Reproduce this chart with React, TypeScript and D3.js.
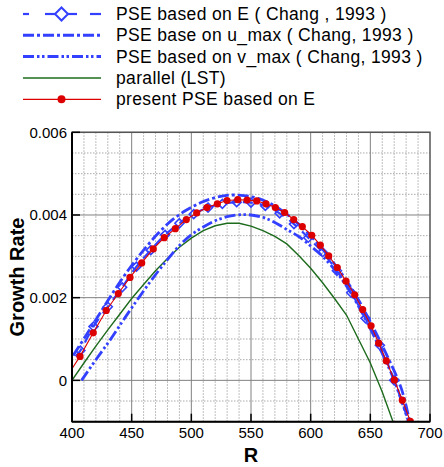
import React from "react";
import * as d3 from "d3";

// Growth rate vs R for several PSE / LST calculations
const eR = [403, 407, 418, 430, 442, 454, 466, 478, 490, 502, 514, 526, 538, 550, 562, 574, 586, 598, 610, 622, 634, 646, 658, 670, 682];
const eG = [0.00058, 0.00072, 0.0013, 0.00178, 0.00225, 0.00275, 0.00315, 0.00352, 0.0038, 0.00402, 0.00418, 0.00427, 0.00431, 0.0043, 0.00422, 0.00404, 0.00378, 0.00345, 0.0031, 0.00265, 0.00212, 0.0015, 0.00085, 0.0, -0.00098];
const eMarked = [false, true, true, true, true, true, true, true, true, true, true, true, true, true, true, true, true, true, true, true, true, true, true, true, false];

const uR = [401, 412, 424, 436, 448, 460, 472, 484, 496, 508, 520, 532, 544, 556, 568, 580, 592, 604, 616, 628, 640, 652, 664, 676, 683];
const uG = [0.0006, 0.0011, 0.00165, 0.0022, 0.0027, 0.00315, 0.00355, 0.00388, 0.00412, 0.0043, 0.00442, 0.00448, 0.00447, 0.0044, 0.00425, 0.00402, 0.00372, 0.00337, 0.00296, 0.0025, 0.00195, 0.0013, 0.0006, -0.0002, -0.001];

const vR = [408, 420, 432, 444, 456, 468, 480, 490, 500, 510, 520, 532, 546, 560, 570, 580, 590, 600, 610, 620, 630, 640, 650, 660, 670, 682];
const vG = [0.0, 0.0005, 0.00098, 0.0015, 0.002, 0.00248, 0.00292, 0.00326, 0.00352, 0.00371, 0.00386, 0.00397, 0.00401, 0.00394, 0.00382, 0.00365, 0.00348, 0.00325, 0.003, 0.00268, 0.00228, 0.0018, 0.00125, 0.00065, 0.0, -0.001];

const lstR = [400, 410, 420, 430, 440, 450, 460, 470, 480, 490, 500, 510, 520, 530, 540, 550, 560, 570, 580, 590, 600, 610, 620, 630, 640, 650, 660, 669];
const lstG = [0.0, 0.00042, 0.00083, 0.00122, 0.0016, 0.00198, 0.00232, 0.00265, 0.00295, 0.00322, 0.00344, 0.00362, 0.00374, 0.0038, 0.0038, 0.00373, 0.00362, 0.00348, 0.0033, 0.00302, 0.00271, 0.00236, 0.00198, 0.00158, 0.001, 0.00042, -0.00028, -0.001];

const presR = [400, 406.7, 417.8, 428.7, 438.8, 448.6, 458.4, 468.1, 477.3, 486.6, 495.8, 504.5, 513.1, 521.8, 529.9, 538.9, 546.7, 554.8, 562.6, 570.4, 578.2, 585.8, 593.0, 600.9, 608.1, 615.1, 622.3, 629.6, 636.9, 643.6, 650.6, 657.0, 663.4, 670.1, 676.8, 683.5];
const presG = [0.00028, 0.00058, 0.00115, 0.00169, 0.0021, 0.00249, 0.00284, 0.00318, 0.00345, 0.00367, 0.00389, 0.00405, 0.00418, 0.00427, 0.00435, 0.00437, 0.00436, 0.00434, 0.00427, 0.00418, 0.00406, 0.00389, 0.00372, 0.00351, 0.00327, 0.00301, 0.00273, 0.0024, 0.00207, 0.00171, 0.00132, 0.0009, 0.00047, 0.00001, -0.00048, -0.00099];

const xTicks = [400, 450, 500, 550, 600, 650, 700];
const yTicks = [0, 0.002, 0.004, 0.006];
const yTickLabels = ["0", "0.002", "0.004", "0.006"];

const legendLabels = [
  "PSE based on E ( Chang , 1993 )",
  "PSE base on u_max ( Chang, 1993 )",
  "PSE based on v_max ( Chang, 1993 )",
  "parallel (LST)",
  "present PSE based on E",
];

const BLUE = "#3340ff";
const RED = "#dd0000";
const GREEN = "#1d6b1d";
const FONT = "'Liberation Sans', Arial, Helvetica, sans-serif";

const W = 444;
const H = 467;
const left = 72;
const right = 430;
const top = 132.3;
const bottom = 421.7;

const DASH_E = "10,7";
const DASH_U = "11,3,3,3";
const DASH_V = "11,3,2.5,2.5,2.5,3";

export default function App() {
  const x = d3.scaleLinear().domain([400, 700]).range([left, right]);
  const y = d3.scaleLinear().domain([-0.001, 0.006]).range([bottom, top]);

  const smooth = d3
    .line<[number, number]>()
    .x((d) => x(d[0]))
    .y((d) => y(d[1]))
    .curve(d3.curveCatmullRom.alpha(0.5));
  const straight = d3
    .line<[number, number]>()
    .x((d) => x(d[0]))
    .y((d) => y(d[1]));

  const zip = (a: number[], b: number[]) => a.map((v, i) => [v, b[i]] as [number, number]);
  const eData = zip(eR, eG);
  const uData = zip(uR, uG);
  const vData = zip(vR, vG);
  const lstData = zip(lstR, lstG);
  const presData = zip(presR, presG);

  const minorX = d3.range(410, 700, 10).filter((v) => v % 50 !== 0);
  const minorY = d3.range(-0.0005, 0.006, 0.0005).filter((v) => Math.abs(v / 0.002 - Math.round(v / 0.002)) > 0.01);

  const diamond = (cx: number, cy: number, s: number) =>
    `M${cx},${cy - s}L${cx + s},${cy}L${cx},${cy + s}L${cx - s},${cy}Z`;

  const legendY = [14, 35.3, 56.6, 78, 99.3];
  const lx0 = 23;
  const lx1 = 101;

  return (
    <svg
      width={W}
      height={H}
      viewBox={`0 0 ${W} ${H}`}
      style={{ position: "absolute", left: 0, top: 0, background: "#fff" }}
    >
      <defs>
        <clipPath id="plotClip">
          <rect x={left} y={top} width={right - left} height={bottom - top} />
        </clipPath>
      </defs>

      {/* grid */}
      <g>
        {minorX.map((v) => (
          <line key={"mx" + v} x1={x(v)} x2={x(v)} y1={top} y2={bottom} stroke="#aaa" strokeWidth={1} strokeDasharray="1.5,1.5" />
        ))}
        {minorY.map((v, i) => (
          <line key={"my" + i} x1={left} x2={right} y1={y(v)} y2={y(v)} stroke="#aaa" strokeWidth={1} strokeDasharray="1.5,1.5" />
        ))}
        {xTicks.slice(1, -1).map((v) => (
          <line key={"gx" + v} x1={x(v)} x2={x(v)} y1={top} y2={bottom} stroke="#808080" strokeWidth={1} />
        ))}
        {yTicks.map((v) => (
          <line key={"gy" + v} x1={left} x2={right} y1={y(v)} y2={y(v)} stroke="#808080" strokeWidth={1} />
        ))}
      </g>

      {/* curves */}
      <g clipPath="url(#plotClip)" fill="none">
        <path d={straight(lstData) ?? ""} stroke={GREEN} strokeWidth={1.4} />
        <path d={smooth(vData) ?? ""} stroke={BLUE} strokeWidth={2.8} strokeDasharray={DASH_V} />
        <path d={smooth(uData) ?? ""} stroke={BLUE} strokeWidth={2.8} strokeDasharray={DASH_U} />
        <path d={smooth(eData) ?? ""} stroke={BLUE} strokeWidth={2.2} strokeDasharray={DASH_E} />
        {eData.map((d, i) =>
          eMarked[i] ? (
            <path key={"ed" + i} d={diamond(x(d[0]), y(d[1]), 4.5)} stroke={BLUE} strokeWidth={1.6} fill="none" />
          ) : null
        )}
        <path d={straight(presData) ?? ""} stroke={RED} strokeWidth={1.1} />
        {presData.slice(1).map((d, i) => (
          <circle key={"pd" + i} cx={x(d[0])} cy={y(d[1])} r={3.6} fill={RED} />
        ))}
      </g>

      {/* frame */}
      <rect x={left} y={top} width={right - left} height={bottom - top} fill="none" stroke="#555" strokeWidth={1.5} />
      <line x1={left} x2={left} y1={top} y2={bottom} stroke="#000" strokeWidth={2} />
      <line x1={left} x2={right} y1={bottom} y2={bottom} stroke="#000" strokeWidth={2} />

      {/* ticks */}
      {xTicks.map((v) => (
        <line key={"tx" + v} x1={x(v)} x2={x(v)} y1={bottom} y2={bottom - 8} stroke="#000" strokeWidth={1.5} />
      ))}
      {yTicks.map((v) => (
        <line key={"ty" + v} x1={left} x2={left + 8} y1={y(v)} y2={y(v)} stroke="#000" strokeWidth={1.5} />
      ))}

      {/* tick labels */}
      <g fontFamily={FONT} fontSize={15} fill="#000">
        {xTicks.map((v) => (
          <text key={"lx" + v} x={x(v)} y={437.5} textAnchor="middle">
            {v}
          </text>
        ))}
        {yTicks.map((v, i) => (
          <text key={"ly" + v} x={left - 5} y={y(v) + 5.3} textAnchor="end">
            {yTickLabels[i]}
          </text>
        ))}
      </g>

      {/* axis titles */}
      <text x={(left + right) / 2} y={462} textAnchor="middle" fontFamily={FONT} fontWeight="bold" fontSize={20}>
        R
      </text>
      <text
        transform={`translate(24, ${(top + bottom) / 2}) rotate(-90)`}
        textAnchor="middle"
        fontFamily={FONT}
        fontWeight="bold"
        fontSize={20}
      >
        Growth Rate
      </text>

      {/* legend */}
      <g>
        <line x1={lx0} x2={lx0 + 6} y1={legendY[0]} y2={legendY[0]} stroke={BLUE} strokeWidth={2.2} />
        <line x1={lx1 - 11} x2={lx1} y1={legendY[0]} y2={legendY[0]} stroke={BLUE} strokeWidth={2.2} />
        <line x1={45} x2={77} y1={legendY[0]} y2={legendY[0]} stroke={BLUE} strokeWidth={2.2} />
        <path d={diamond(61.5, legendY[0], 6.5)} stroke={BLUE} strokeWidth={2} fill="#fff" />
        <line x1={lx0} x2={lx1} y1={legendY[1]} y2={legendY[1]} stroke={BLUE} strokeWidth={3} strokeDasharray={DASH_U} />
        <line x1={lx0} x2={lx1} y1={legendY[2]} y2={legendY[2]} stroke={BLUE} strokeWidth={3} strokeDasharray={DASH_V} />
        <line x1={lx0} x2={lx1} y1={legendY[3]} y2={legendY[3]} stroke={GREEN} strokeWidth={1.6} />
        <line x1={lx0} x2={lx1} y1={legendY[4]} y2={legendY[4]} stroke={RED} strokeWidth={1.3} />
        <circle cx={61.5} cy={legendY[4]} r={4} fill={RED} />
        <g fontFamily={FONT} fontSize={17.5} letterSpacing={0.35} fill="#000">
          {legendLabels.map((t, i) => (
            <text key={t} x={116} y={legendY[i] + 6}>
              {t}
            </text>
          ))}
        </g>
      </g>
    </svg>
  );
}
